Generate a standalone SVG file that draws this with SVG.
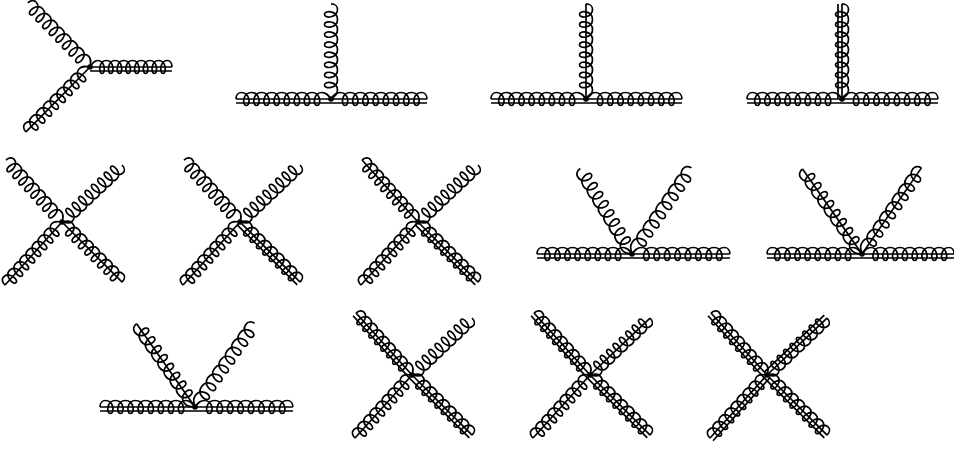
<svg xmlns="http://www.w3.org/2000/svg" xmlns:xlink="http://www.w3.org/1999/xlink" width="954" height="449" viewBox="0 0 954 449">
<style>
path{fill:none;stroke:#000;stroke-width:1.7;vector-effect:non-scaling-stroke}
circle{fill:#000}
</style>
<defs>
<path id="c" d="M0 0C3-4 5-6.5 9-6.5c8.8 0 9.6 13 5.1 13c-4.5 0-3.7-13 5.1-13c8.8 0 9.6 13 5.1 13c-4.5 0-3.7-13 5.1-13c8.8 0 9.6 13 5.1 13c-4.5 0-3.7-13 5.1-13c8.8 0 9.6 13 5.1 13c-4.5 0-3.7-13 5.1-13c8.8 0 9.6 13 5.1 13c-4.5 0-3.7-13 5.1-13c8.8 0 9.6 13 5.1 13c-4.5 0-3.7-13 5.1-13c8.8 0 9.6 13 5.1 13c-4.5 0-3.7-13 5.1-13c8.8 0 9.6 13 5.1 13c-4.5 0-3.7-13 5.1-13C93.5-6.5 96-4 96 0"/>
<g id="A"><use href="#c"/></g>
<g id="B"><use href="#c"/><path d="M0 0H96"/></g>
<g id="C"><use href="#c"/><path d="M0 0H96M0 4H96"/></g>
</defs>
<g id="connectors">
<use href="#C" transform="translate(90 67) scale(.854 1)"/>
<use href="#A" transform="translate(90 67) rotate(225.9) scale(.93 -1)"/>
<use href="#B" transform="translate(90 67) rotate(134.6) scale(.95 -1)"/>

<use href="#C" transform="translate(331 99) scale(1 1)"/>
<use href="#C" transform="translate(331 99) rotate(180) scale(.99 -1)"/>
<use href="#A" transform="translate(331 99) rotate(-90) scale(.99 -1)"/>

<use href="#C" transform="translate(586 99) scale(1 1)"/>
<use href="#C" transform="translate(586 99) rotate(180) scale(.99 -1)"/>
<use href="#B" transform="translate(586 99) rotate(-90) scale(.99 -1)"/>

<use href="#C" transform="translate(842 99) scale(1 1)"/>
<use href="#C" transform="translate(842 99) rotate(180) scale(.99 -1)"/>
<use href="#C" transform="translate(842 99) rotate(-90) scale(.99 -1)"/>

<use href="#A" transform="translate(62 222) rotate(227.9) scale(.87 -1)"/>
<use href="#A" transform="translate(62 222) rotate(-43.5) scale(.862 -1)"/>
<use href="#B" transform="translate(62 222) rotate(132.1) scale(.885 -1)"/>
<use href="#B" transform="translate(62 222) rotate(45) scale(.885 1)"/>

<use href="#A" transform="translate(240 222) rotate(227.9) scale(.87 -1)"/>
<use href="#A" transform="translate(240 222) rotate(-43.5) scale(.862 -1)"/>
<use href="#B" transform="translate(240 222) rotate(132.1) scale(.885 -1)"/>
<use href="#C" transform="translate(240 222) rotate(45) scale(.885 1)"/>

<use href="#B" transform="translate(418 222) rotate(227.9) scale(.87 -1)"/>
<use href="#A" transform="translate(418 222) rotate(-43.5) scale(.862 -1)"/>
<use href="#B" transform="translate(418 222) rotate(132.1) scale(.885 -1)"/>
<use href="#C" transform="translate(418 222) rotate(45) scale(.885 1)"/>

<use href="#C" transform="translate(632 254) scale(1.02 1)"/>
<use href="#C" transform="translate(632 254) rotate(180) scale(.99 -1)"/>
<use href="#A" transform="translate(632 254) rotate(238.8) scale(1.04 1)"/>
<use href="#A" transform="translate(632 254) rotate(-55.4) scale(1.09 1)"/>

<use href="#C" transform="translate(862 254) scale(.96 1)"/>
<use href="#C" transform="translate(862 254) rotate(180) scale(.99 -1)"/>
<use href="#B" transform="translate(862 254) rotate(235) scale(1.08 1)"/>
<use href="#B" transform="translate(862 254) rotate(-55.4) scale(1.09 1)"/>

<use href="#C" transform="translate(195 407) scale(1.02 1)"/>
<use href="#C" transform="translate(195 407) rotate(180) scale(.99 -1)"/>
<use href="#B" transform="translate(195 407) rotate(235) scale(1.06 1)"/>
<use href="#A" transform="translate(195 407) rotate(-54.5) scale(1.07 1)"/>

<use href="#C" transform="translate(412 375) rotate(227.9) scale(.87 -1)"/>
<use href="#A" transform="translate(412 375) rotate(-43.5) scale(.862 -1)"/>
<use href="#B" transform="translate(412 375) rotate(132.1) scale(.885 -1)"/>
<use href="#C" transform="translate(412 375) rotate(45) scale(.885 1)"/>

<use href="#C" transform="translate(590 375) rotate(227.9) scale(.87 -1)"/>
<use href="#B" transform="translate(590 375) rotate(-43.5) scale(.862 -1)"/>
<use href="#B" transform="translate(590 375) rotate(132.1) scale(.885 -1)"/>
<use href="#C" transform="translate(590 375) rotate(45) scale(.885 1)"/>

<use href="#C" transform="translate(767 375) rotate(227.9) scale(.87 -1)"/>
<use href="#C" transform="translate(767 375) rotate(-43.5) scale(.862 -1)"/>
<use href="#C" transform="translate(767 375) rotate(132.1) scale(.885 -1)"/>
<use href="#C" transform="translate(767 375) rotate(45) scale(.885 1)"/>
</g>
<g id="v1"><circle cx="90" cy="67" r="2.8"/></g>
<g id="v2"><circle cx="331" cy="99" r="2.8"/></g>
<g id="v3"><circle cx="586" cy="99" r="2.8"/></g>
<g id="v4"><circle cx="842" cy="99" r="2.8"/></g>
<g id="v5"><circle cx="62" cy="222" r="2.8"/></g>
<g id="v6"><circle cx="240" cy="222" r="2.8"/></g>
<g id="v7"><circle cx="418" cy="222" r="2.8"/></g>
<g id="v8"><circle cx="632" cy="254" r="2.8"/></g>
<g id="v9"><circle cx="862" cy="254" r="2.8"/></g>
<g id="v10"><circle cx="195" cy="407" r="2.8"/></g>
<g id="v11"><circle cx="412" cy="375" r="2.8"/></g>
<g id="v12"><circle cx="590" cy="375" r="2.8"/></g>
<g id="v13"><circle cx="767" cy="375" r="2.8"/></g>
</svg>
